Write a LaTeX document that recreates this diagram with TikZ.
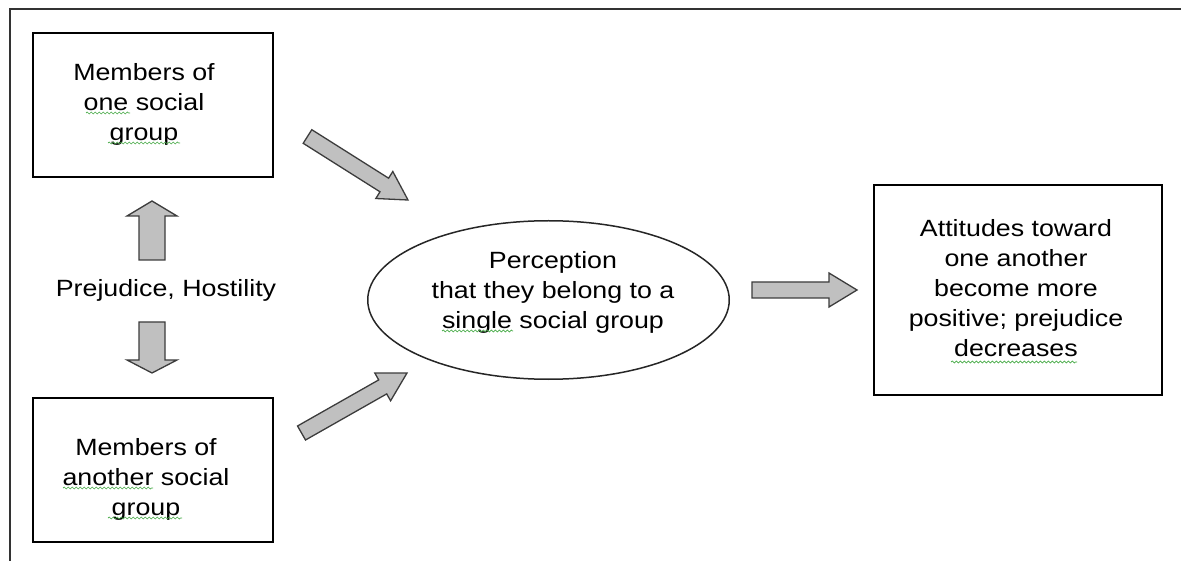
\documentclass[tikz,border=0pt]{standalone}
\usepackage{fontspec}
\setmainfont{Liberation Sans}[FakeStretch=1.14]
\usetikzlibrary{shapes.geometric,decorations.pathmorphing}
\definecolor{spell}{RGB}{70,170,70}
\definecolor{arrowfill}{RGB}{192,192,192}
\definecolor{arrowline}{RGB}{60,60,60}
\begin{document}
\begin{tikzpicture}[x=1pt,y=-1pt,
  frame/.style={draw=black!80, line width=1.6pt},
  box/.style={draw=black, line width=2.4pt, fill=white, rectangle, inner sep=0pt},
  oval/.style={draw=black!85, line width=1.5pt, ellipse, inner sep=0pt},
  txt/.style={font=\fontsize{23.5}{30}\selectfont, align=center, inner sep=0pt, text=black},
  barrow/.style={draw=arrowline, fill=arrowfill, line width=1.3pt, line join=miter},
  squig/.style={draw=spell, line width=0.7pt, decorate, decoration={snake, amplitude=1pt, segment length=4pt}}]
\useasboundingbox (0,0) rectangle (1181,561);

% outer frame (top and left only)
\coordinate (fTL) at (10,9);
\coordinate (fTR) at (1181,9);
\coordinate (fBL) at (10,561);
\draw[frame] (fTR) -- (fTL) -- (fBL);

% boxes
\node[box, minimum width=239.6, minimum height=143.6] (b1) at (153,105) {};
\node[box, minimum width=239.6, minimum height=143.6] (b2) at (153,470) {};
\node[box, minimum width=287.6, minimum height=209.6] (b3) at (1018,290) {};
\node[oval, minimum width=361.5, minimum height=158.5] (el) at (548.5,300) {};

% texts
\node[txt] (t1) at (144,104) {Members of\\one social\\group};
\node[txt] (t2) at (146,479) {Members of\\another social\\group};
\node[txt] (t3) at (1016,288) {Attitudes toward\\one another\\become more\\positive; prejudice\\decreases};
\node[txt] (te) at (553,292) {Perception\\that they belong to a\\single social group};
\node[txt, anchor=base] (tp) at (166,297) {Prejudice, Hostility};

% spell-check underlines
\draw[squig] (86,113) -- (130,113);
\draw[squig] (108,143) -- (180,143);
\draw[squig] (63,488) -- (153,488);
\draw[squig] (108,518) -- (182,518);
\draw[squig] (442,331) -- (513,331);
\draw[squig] (951,362) -- (1077,362);

% block arrows
\draw[barrow] (139,260) -- (139,216) -- (127,216) -- (152,201) -- (177,216) -- (165,216) -- (165,260) -- cycle;
\draw[barrow] (139,322) -- (165,322) -- (165,360) -- (177,360) -- (152,373) -- (127,360) -- (139,360) -- cycle;
\draw[barrow] (752,282) -- (829,282) -- (829,273) -- (857,290) -- (829,307) -- (829,298) -- (752,298) -- cycle;
\draw[barrow] (303.2,143.3) -- (380.0,191.8) -- (375.8,198.5) -- (408,200) -- (392.8,171.5) -- (388.6,178.2) -- (311.8,129.7) -- cycle;
\draw[barrow] (305.5,440.0) -- (386.7,393.9) -- (390.6,400.8) -- (407,373) -- (374.8,373.0) -- (378.7,379.9) -- (297.5,426.0) -- cycle;
\end{tikzpicture}
\end{document}
